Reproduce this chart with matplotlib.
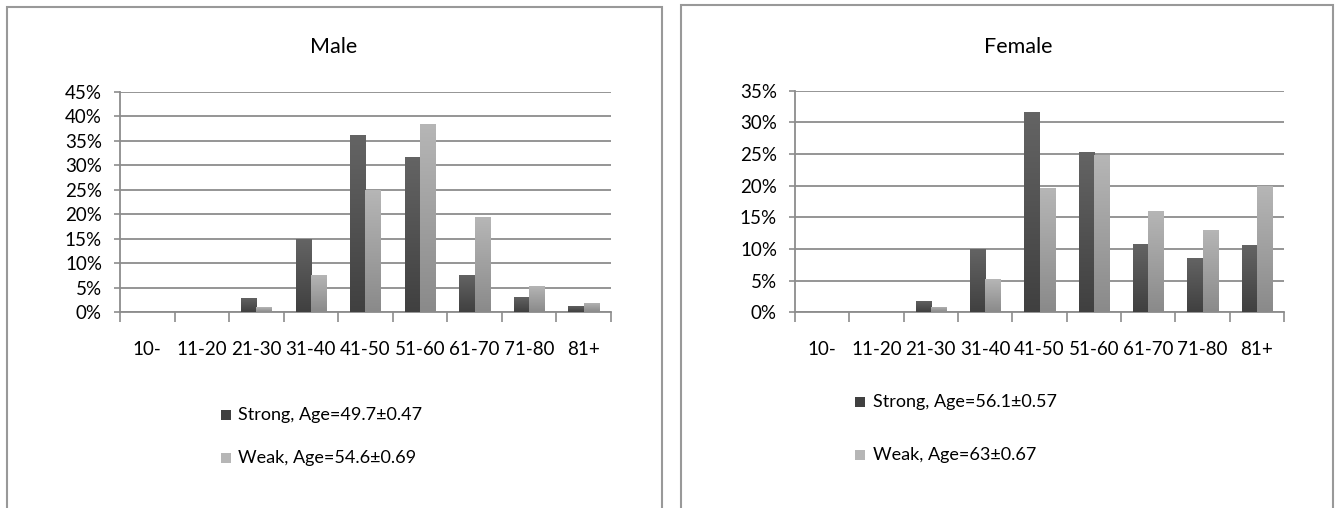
import numpy as np
import matplotlib
matplotlib.use("Agg")
import matplotlib.pyplot as plt
from matplotlib.patches import Rectangle
from matplotlib.ticker import FixedLocator, PercentFormatter

plt.rcParams["font.family"] = ["Lato", "DejaVu Sans"]

age_groups = ["10-", "11-20", "21-30", "31-40", "41-50", "51-60", "61-70", "71-80", "81+"]

male_strong = [0, 0, 2.9, 15.0, 36.2, 31.8, 7.6, 3.2, 1.3]
male_weak = [0, 0, 1.0, 7.6, 25.0, 38.5, 19.4, 5.4, 2.0]
female_strong = [0, 0, 1.8, 10.0, 31.6, 25.3, 10.8, 8.6, 10.6]
female_weak = [0, 0, 0.8, 5.2, 19.6, 24.9, 16.0, 13.0, 20.0]

male_labels = ["Strong, Age=49.7\u00b10.47", "Weak, Age=54.6\u00b10.69"]
female_labels = ["Strong, Age=56.1\u00b10.57", "Weak, Age=63\u00b10.67"]

W, H = 1341, 508
GRID = "#8c8c8c"
STRONG = ("#646464", "#404040")
WEAK = ("#b6b6b6", "#8a8a8a")
TICK_FS = 13.5
LEG_FS = 13
TITLE_FS = 15.5


def gradient_bars(ax, bars, colors):
    top = np.array(matplotlib.colors.to_rgb(colors[0]))
    bot = np.array(matplotlib.colors.to_rgb(colors[1]))
    t = np.linspace(0, 1, 64)[:, None]
    img = (bot * (1 - t) + top * t)[:, None, :]
    for b in bars:
        b.set_facecolor(colors[1])
        b.set_edgecolor("none")
        x0, y0 = b.get_x(), b.get_y()
        if b.get_height() <= 0:
            continue
        im = ax.imshow(img, extent=(x0, x0 + b.get_width(), y0, y0 + b.get_height()),
                       origin="lower", aspect="auto", zorder=3, interpolation="bilinear")
        im.set_clip_path(b)


def draw_panel(fig, rect, strong, weak, ymax, title, title_x, labels, leg):
    ax = fig.add_axes(rect)
    x = np.arange(len(age_groups))
    w = 0.28
    b1 = ax.bar(x - w / 2, strong, w, zorder=3)
    b2 = ax.bar(x + w / 2, weak, w, zorder=3)
    ax.set_xlim(-0.5, len(age_groups) - 0.5)
    ax.set_ylim(0, ymax)
    gradient_bars(ax, b1, STRONG)
    gradient_bars(ax, b2, WEAK)

    ax.set_yticks(np.arange(0, ymax + 1, 5))
    ax.yaxis.set_major_formatter(PercentFormatter(decimals=0))
    ax.yaxis.grid(True, color=GRID, lw=1.3, zorder=1)
    ax.xaxis.set_major_locator(FixedLocator(np.arange(-0.5, len(age_groups), 1)))
    ax.xaxis.set_minor_locator(FixedLocator(x))
    ax.set_xticklabels([])
    ax.set_xticklabels(age_groups, minor=True)
    ax.tick_params(axis="x", which="major", length=7, width=1.2, color=GRID)
    ax.tick_params(axis="x", which="minor", length=0, pad=21, labelsize=TICK_FS)
    ax.tick_params(axis="y", length=4, width=1.2, color=GRID, pad=9, labelsize=TICK_FS)
    for s in ["top", "right"]:
        ax.spines[s].set_visible(False)
    for s in ["left", "bottom"]:
        ax.spines[s].set_color(GRID)
        ax.spines[s].set_linewidth(1.3)

    fig.text(title_x / W, 1 - 47 / H, title, ha="center", va="center", fontsize=TITLE_FS)

    mx, tx, ys = leg
    for lab, col, y in zip(labels, [STRONG[1], WEAK[0]], ys):
        fig.patches.append(Rectangle((mx / W, 1 - (y + 5) / H), 10 / W, 10 / H,
                                     transform=fig.transFigure, facecolor=col,
                                     edgecolor="none"))
        fig.text(tx / W, 1 - y / H, lab, ha="left", va="center", fontsize=LEG_FS)
    return ax


fig = plt.figure(figsize=(W / 100, H / 100), dpi=100)

# panel frames
for x0, x1, y0 in [(7, 662, 7), (681, 1333, 5)]:
    fig.patches.append(Rectangle((x0 / W, -0.1), (x1 - x0) / W, 1.1 - y0 / H,
                                 transform=fig.transFigure, fill=False,
                                 edgecolor="#999999", lw=1.5))

draw_panel(fig, [120 / W, 1 - 312.3 / H, 491 / W, 220.3 / H], male_strong, male_weak,
           45, "Male", 334, male_labels, (221, 238, [415, 458]))
draw_panel(fig, [795 / W, 1 - 312.3 / H, 489 / W, 221.6 / H], female_strong, female_weak,
           35, "Female", 1018, female_labels, (855, 873, [402, 455]))

fig.savefig("out.png", dpi=100, facecolor="white")
